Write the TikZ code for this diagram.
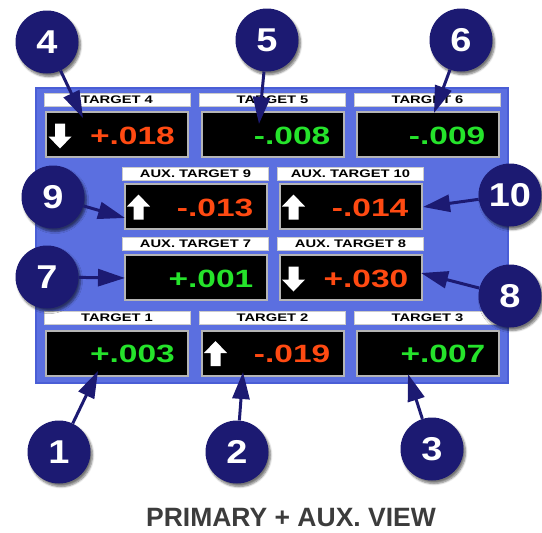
\documentclass[tikz,border=0pt]{standalone}
\usepackage{fontspec}
\setmainfont{Liberation Sans}
\newfontfamily\widefont{Liberation Sans}[FakeStretch=1.34]
\newfontfamily\badgefont{Liberation Sans}[FakeStretch=1.15]
\usetikzlibrary{arrows.meta,calc,shadows.blur}
\definecolor{panel}{HTML}{5B6FE0}
\definecolor{panelrim}{HTML}{4A5ED6}
\definecolor{navy}{HTML}{1C1A72}
\definecolor{hot}{HTML}{FF4A12}
\definecolor{calm}{HTML}{25E32B}
\definecolor{rim}{HTML}{B5B5B5}
\definecolor{caption}{HTML}{3C3C3C}

\newcommand{\upsign}[1]{\fill[white,shift={(#1)}] (-5,13) -- (-5,0) -- (-11.5,0)
  -- (0,-12) -- (11.5,0) -- (5,0) -- (5,13) -- cycle;}
\newcommand{\downsign}[1]{\fill[white,shift={(#1)}] (-5,-13) -- (-5,0) -- (-11.5,0)
  -- (0,12) -- (11.5,0) -- (5,0) -- (5,-13) -- cycle;}

\begin{document}
\begin{tikzpicture}[
  x=1pt,y=-1pt,
  board/.style={draw=panelrim,line width=1.5pt,fill=panel,inner sep=0pt},
  tag/.style={draw=rim!70,line width=.8pt,fill=white,minimum width=146pt,
    minimum height=13pt,inner sep=0pt,
    font=\widefont\bfseries\fontsize{11}{11}\selectfont},
  readout/.style={draw=rim,line width=2pt,fill=black,minimum width=142pt,
    minimum height=45pt,inner sep=0pt},
  value/.style={anchor=east,inner sep=0pt,
    font=\widefont\bfseries\fontsize{25}{25}\selectfont},
  badge/.style={circle,fill=navy,minimum size=63pt,inner sep=0pt,text=white,
    font=\badgefont\bfseries\fontsize{33}{33}\selectfont,
    blur shadow={shadow xshift=2pt,shadow yshift=-3pt,shadow blur steps=6,shadow opacity=55}},
  pointer/.style={draw=navy,line width=3pt,-{Triangle[length=27pt,width=17pt,fill=navy]}},
  caption/.style={text=caption,font=\bfseries\fontsize{26.5}{26.5}\selectfont}
]
\path[use as bounding box] (0,0) rectangle (542,533);

% blue display panel
\node[board,minimum width=472pt,minimum height=295pt] (display) at (272,235.5) {};

% primary targets, top row
\node[tag] (l4) at (117,100) {TARGET 4};
\node[readout] (v4) at (117,134.5) {};
\node[value,text=hot] (r4) at ($(v4.east)+(-14,1)$) {+.018};
\downsign{$(v4.west)+(15,2)$}

\node[tag] (l5) at (272.5,100) {TARGET 5};
\node[readout] (v5) at (272.5,134.5) {};
\node[value,text=calm] (r5) at ($(v5.east)+(-14,1)$) {-.008};

\node[tag] (l6) at (427.5,100) {TARGET 6};
\node[readout] (v6) at (427.5,134.5) {};
\node[value,text=calm] (r6) at ($(v6.east)+(-14,1)$) {-.009};

% auxiliary targets
\node[tag] (l9) at (195.5,173.5) {AUX. TARGET 9};
\node[readout] (v9) at (195.5,206.5) {};
\node[value,text=hot] (r9) at ($(v9.east)+(-14,1)$) {-.013};
\upsign{$(v9.west)+(15,0)$}

\node[tag] (l10) at (350.5,173.5) {AUX. TARGET 10};
\node[readout] (v10) at (350.5,206.5) {};
\node[value,text=hot] (r10) at ($(v10.east)+(-14,1)$) {-.014};
\upsign{$(v10.west)+(15,0)$}

\node[tag] (l7) at (195.5,243.5) {AUX. TARGET 7};
\node[readout] (v7) at (195.5,277.5) {};
\node[value,text=calm] (r7) at ($(v7.east)+(-14,1)$) {+.001};

\node[tag] (l8) at (350.5,243.5) {AUX. TARGET 8};
\node[readout] (v8) at (350.5,277.5) {};
\node[value,text=hot] (r8) at ($(v8.east)+(-14,1)$) {+.030};
\downsign{$(v8.west)+(15,2)$}

% primary targets, bottom row
\node[tag] (l1) at (117,318) {TARGET 1};
\node[readout] (v1) at (117,353) {};
\node[value,text=calm] (r1) at ($(v1.east)+(-14,1)$) {+.003};

\node[tag] (l2) at (272.5,318) {TARGET 2};
\node[readout] (v2) at (272.5,353) {};
\node[value,text=hot] (r2) at ($(v2.east)+(-14,1)$) {-.019};
\upsign{$(v2.west)+(15,0)$}

\node[tag] (l3) at (427.5,318) {TARGET 3};
\node[readout] (v3) at (427.5,353) {};
\node[value,text=calm] (r3) at ($(v3.east)+(-14,1)$) {+.007};

% callout tips
\coordinate (t4) at (83,118);
\coordinate (t5) at (259,124);
\coordinate (t6) at (434,113);
\coordinate (t9) at (125,218);
\coordinate (t7) at (125,278);
\coordinate (t10) at (423,207);
\coordinate (t8) at (421,273);
\coordinate (t1) at (98,371);
\coordinate (t2) at (243,372);
\coordinate (t3) at (408,374);

% numbered callouts
\node[badge] (n4) at (47,42) {4};
\node[badge] (n5) at (267,40) {5};
\node[badge] (n6) at (461,40) {6};
\node[badge] (n9) at (53,197) {9};
\node[badge] (n7) at (47,277) {7};
\node[badge] (n10) at (510,195) {10};
\node[badge] (n8) at (510,296) {8};
\node[badge] (n1) at (59,452) {1};
\node[badge] (n2) at (237,452) {2};
\node[badge] (n3) at (432,449) {3};

\draw[pointer] (n4) -- (t4);
\draw[pointer] (n5) -- (t5);
\draw[pointer] (n6) -- (t6);
\draw[pointer] (n9) -- (t9);
\draw[pointer] (n7) -- (t7);
\draw[pointer] (n10) -- (t10);
\draw[pointer] (n8) -- (t8);
\draw[pointer] (n1) -- (t1);
\draw[pointer] (n2) -- (t2);
\draw[pointer] (n3) -- (t3);

\node[caption] (title) at (291,518) {PRIMARY + AUX. VIEW};
\end{tikzpicture}
\end{document}
